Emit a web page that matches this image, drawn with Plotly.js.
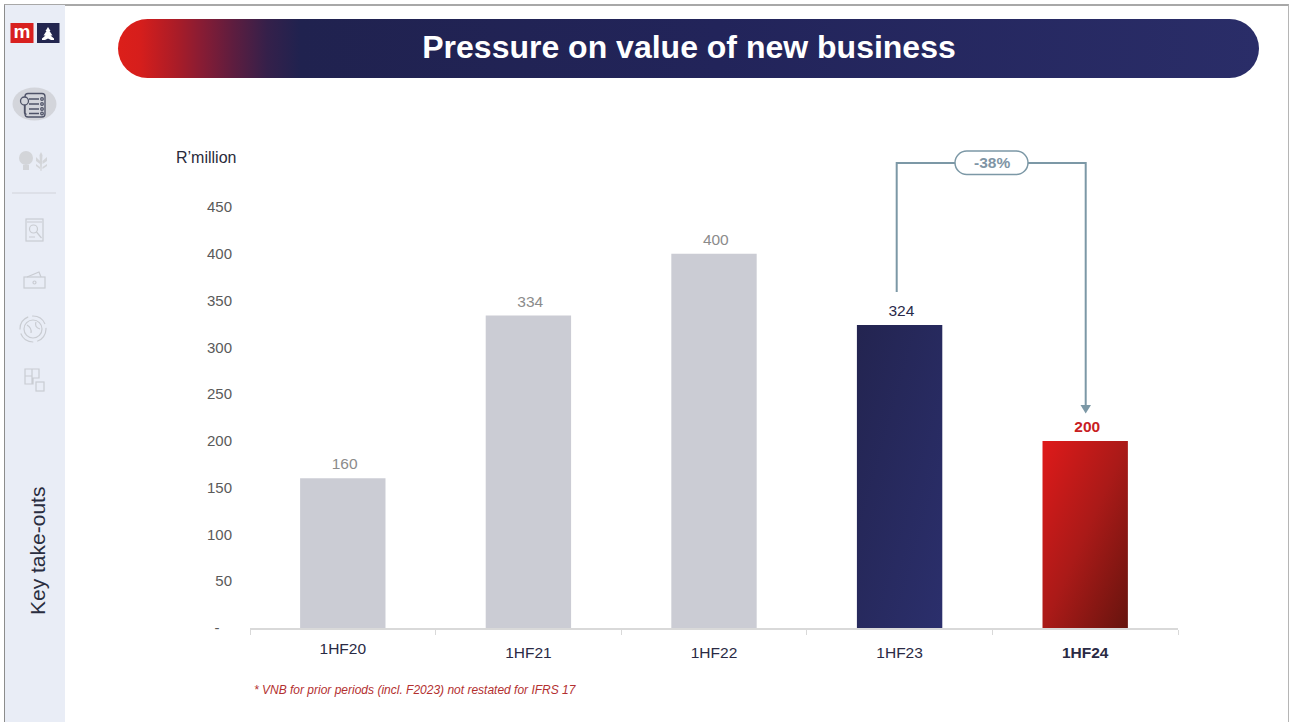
<!DOCTYPE html>
<html>
<head>
<meta charset="utf-8">
<script src="https://cdn.plot.ly/plotly-3.0.1.min.js"></script>
<style>
html,body{margin:0;padding:0;background:#fff;width:1290px;height:722px;overflow:hidden;font-family:"Liberation Sans",Arial,sans-serif}
#frame{position:absolute;left:4px;top:4px;width:1285px;height:718px;border-top:2px solid #a8a8a8;border-left:1.5px solid #8c8c8c;border-right:1px solid #b5b5b5;box-sizing:border-box}
#side{position:absolute;left:5px;top:5px;width:60px;height:717px;background:#e9edf6}
#banner{position:absolute;left:118px;top:19px;width:1141px;height:59px;border-radius:30px;background:linear-gradient(90deg,#dc1f1a 0,#d61e1c 22px,#a81c28 60px,#8a1c33 82px,#5e1d3f 115px,#35204a 149px,#20224f 182px,#22245a 600px,#2a2d68 100%)}
#icons{position:absolute;left:0;top:0}
#chart{position:absolute;left:0;top:0;width:1290px;height:722px}
</style>
</head>
<body>
<div id="frame"></div>
<div id="side"></div>
<div id="banner"></div>
<svg id="icons" width="70" height="420" xmlns="http://www.w3.org/2000/svg">
  <rect x="10.500" y="23" width="23" height="20" fill="#d8201f"/>
  <text x="22" y="38" font-family="Liberation Sans" font-weight="bold" font-size="19" fill="#fff" text-anchor="middle">m</text>
  <rect x="37" y="23" width="22.500" height="20" fill="#23264f"/>
  <path d="M48 27l2.500 4h-1l3 4.500h-2l3.500 3v1.500h-3l-3-1.500-3 1.500h-3v-1.500l3.500-3h-2l3-4.500h-1z" fill="#fff"/>
  <ellipse cx="34.500" cy="104" rx="22" ry="16.500" fill="#d3d5db"/>
  <g fill="none" stroke="#4f5368" stroke-width="1.300">
    <rect x="25" y="93.500" width="20" height="23.500" rx="3"/>
    <path d="M29 99h10M29 104h10M29 109h10M29 113.500h10"/>
    <circle cx="42" cy="99" r="1.300"/><circle cx="42" cy="104" r="1.300"/><circle cx="42" cy="109" r="1.300"/><circle cx="42" cy="113.500" r="1.300"/>
    <circle cx="24.500" cy="101" r="4" fill="#d3d5db"/><path d="M24.500 105v8l2 1.500"/>
  </g>
  <g fill="#d3d5d9" stroke="none">
    <circle cx="26" cy="158" r="7"/><rect x="23" y="165" width="6" height="5"/>
    <path d="M41 152l1.500 3-1 16h-1l-1-16zM36 157l4 4v3l-4-3zM47 157l-4.500 4v3l4.500-3zM36 164l4 3v2l-4-3zM47 164l-4.500 3v2l4.500-3z"/>
  </g>
  <line x1="12" y1="193" x2="56" y2="193" stroke="#d2d4da" stroke-width="1.200"/>
  <g fill="none" stroke="#c9ccd2" stroke-width="1.200">
    <rect x="26" y="219" width="17" height="22"/><circle cx="33.500" cy="229" r="4"/><path d="M36.500 232l5 6M29 237h6M27 222h15"/>
    <rect x="24" y="277" width="21" height="11"/><circle cx="34.500" cy="282.500" r="1.500"/><path d="M27 277l12-5 2 5"/>
    <circle cx="33" cy="329" r="13" stroke-dasharray="16 4"/><circle cx="33" cy="329" r="9"/><path d="M27 325q5 3 4 8M36 322q-2 5 4 7"/>
    <path d="M25 369h14v9h-6v6h-8zM32 369v15M25 376h7"/><rect x="36" y="382" width="8" height="9"/>
  </g>
</svg>
<div id="chart"></div>
<script>
// Chart data
var categories = ["1HF20", "1HF21", "1HF22", "1HF23", "1HF24"];
var categoryLabels = ["1HF20", "1HF21", "1HF22", "1HF23", "<b>1HF24</b>"];
var vnbValues = [160, 334, 400, 324, 200];
var valueLabels = ["160", "334", "400", "324", "<b>200</b>"];
var labelColors = ["#8b8b8b", "#8b8b8b", "#8b8b8b", "#2a2a4a", "#c8201f"];
var barColors = ["#cbccd4", "#cbccd4", "#cbccd4", "#282a5c", "#a81a18"];
var yTickValues = [0, 50, 100, 150, 200, 250, 300, 350, 400, 450];
var yTickLabels = ["-\u00a0\u00a0\u00a0", "50", "100", "150", "200", "250", "300", "350", "400", "450"];

var M = {l: 250, t: 207, w: 928, h: 421};
function px(x) { return (x - M.l) / M.w; }
function py(y) { return (M.t + M.h - y) / M.h; }
function p(pts) {
  return pts.map(function (q, i) { return (i ? "L" : "M") + px(q[0]) + "," + py(q[1]); }).join(" ");
}
function note(text, x, y, size, color, extra) {
  var a = {text: text, xref: "paper", yref: "paper", x: px(x), y: py(y), showarrow: false,
    font: {family: "Liberation Sans", size: size, color: color}, xanchor: "center", yanchor: "middle"};
  for (var k in (extra || {})) a[k] = extra[k];
  return a;
}
var connector = "#7c98a6";
var pill = {x0: 955, x1: 1028, y0: 151, y1: 174.500, r: 11.750};
function pillPath() {
  var l = pill.x0 + pill.r, rr = pill.x1 - pill.r, t = pill.y0, b = pill.y1, r = pill.r, k = 0.5523 * r;
  function c(a, b2, d, e, f, g) {
    return " C" + px(a) + "," + py(b2) + " " + px(d) + "," + py(e) + " " + px(f) + "," + py(g);
  }
  return "M" + px(l) + "," + py(t) + " L" + px(rr) + "," + py(t) +
    c(rr + k, t, rr + r, t + r - k, rr + r, t + r) +
    c(rr + r, t + r + k, rr + k, b, rr, b) +
    " L" + px(l) + "," + py(b) +
    c(l - k, b, l - r, t + r + k, l - r, t + r) +
    c(l - r, t + r - k, l - k, t, l, t) + " Z";
}

var trace = {
  type: "bar", x: categories, y: vnbValues,
  marker: {color: barColors, line: {width: 0}},
  text: valueLabels, textposition: "outside", cliponaxis: false,
  textfont: {family: "Liberation Sans", size: 15.500, color: labelColors},
  hoverinfo: "x+y"
};
var layout = {
  width: 1290, height: 722, showlegend: false,
  paper_bgcolor: "rgba(0,0,0,0)", plot_bgcolor: "rgba(0,0,0,0)",
  margin: {l: M.l, t: M.t, r: 1290 - M.l - M.w, b: 722 - M.t - M.h, pad: 0},
  bargap: 0.54,
  title: {text: "<b>Pressure on value of new business</b>", x: 689 / 1290, xref: "container", xanchor: "center",
    y: 1 - 47 / 722, yref: "container", yanchor: "middle",
    font: {family: "Liberation Sans", size: 32, color: "#fff"}},
  xaxis: {type: "category", tickmode: "array", tickvals: categories, ticktext: categoryLabels,
    tickson: "boundaries", ticks: "outside", ticklen: 5, tickcolor: "#d9d9d9", tickwidth: 1,
    ticklabelstandoff: 10,
    showline: true, linecolor: "#d9d9d9", linewidth: 1.500, showgrid: false, zeroline: false,
    tickfont: {family: "Liberation Sans", size: 15.500, color: "#2a2a44"}},
  yaxis: {range: [0, 450], tickmode: "array", tickvals: yTickValues, ticktext: yTickLabels,
    ticks: "outside", ticklen: 14, tickcolor: "rgba(0,0,0,0)", showline: false, showgrid: false, zeroline: false,
    tickfont: {family: "Liberation Sans", size: 15, color: "#5a5a5a"}},
  shapes: [
    {type: "path", xref: "paper", yref: "paper", line: {color: connector, width: 2},
      path: p([[896.700, 292], [896.700, 163], [956, 163]])},
    {type: "path", xref: "paper", yref: "paper", line: {color: connector, width: 2},
      path: p([[1027, 163], [1085.700, 163], [1085.700, 406]])},
    {type: "path", xref: "paper", yref: "paper", fillcolor: connector, line: {width: 0},
      path: p([[1080.500, 405], [1091, 405], [1085.700, 413.500]]) + " Z"},
    {type: "path", xref: "paper", yref: "paper", fillcolor: "#fff", line: {color: connector, width: 1.500},
      path: pillPath()}
  ],
  annotations: [
    note("R’million", 205.500, 157, 16, "#2a2a3a"),
    note("<b>-38%</b>", 991.500, 162, 15.500, "#7f95a5"),
    note("Key take-outs", 37, 551, 21, "#2a2d40", {textangle: -90}),
    note("<i>* VNB for prior periods (incl. F2023) not restated for IFRS 17</i>", 252, 690, 12, "#b3302f", {xanchor: "left"})
  ]
};

function addGradients() {
  var svg = document.querySelector("#chart .main-svg");
  var defs = svg.querySelector("defs");
  var ns = "http://www.w3.org/2000/svg";
  function grad(id, stops) {
    var g = document.createElementNS(ns, "linearGradient");
    g.setAttribute("id", id);
    g.setAttribute("x1", "0"); g.setAttribute("y1", "0");
    g.setAttribute("x2", "1"); g.setAttribute("y2", "1");
    stops.forEach(function (s) {
      var st = document.createElementNS(ns, "stop");
      st.setAttribute("offset", s[0]); st.setAttribute("stop-color", s[1]);
      g.appendChild(st);
    });
    defs.appendChild(g);
  }
  grad("barNavy", [[0, "#232450"], [1, "#2b2f6c"]]);
  grad("barRed", [[0, "#df1a1a"], [0.5, "#aa1a18"], [1, "#66140e"]]);
  var bars = document.querySelectorAll("#chart .bars .point path");
  bars[3].style.fill = "url(#barNavy)";
  bars[4].style.fill = "url(#barRed)";
  var ticks = document.querySelectorAll("#chart .xtick text");
  if (ticks.length) ticks[0].setAttribute("y", parseFloat(ticks[0].getAttribute("y")) - 4);
  document.querySelectorAll("#chart .bars .point text").forEach(function (t) {
    t.setAttribute("transform", "translate(2,-3) " + (t.getAttribute("transform") || ""));
  });
}
Plotly.newPlot("chart", [trace], layout, {displayModeBar: false, staticPlot: true}).then(addGradients);
</script>
</body>
</html>
